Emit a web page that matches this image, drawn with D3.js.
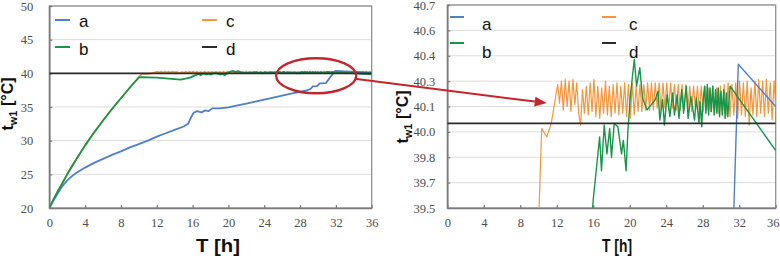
<!DOCTYPE html>
<html><head><meta charset="utf-8">
<script src="https://cdn.jsdelivr.net/npm/d3@7"></script>
<style>html,body{margin:0;padding:0;background:#fff;} svg{display:block}</style>
</head><body>
<svg id="chart" width="780" height="256"></svg>
<script>
// ---------------- data ----------------
const seriesNames = ["a", "b", "c", "d"];
const seriesColors = ["#4f7fc6", "#17964a", "#f4963c", "#2b2b2b"];
const drawOrder = [2, 0, 1, 3];
const timeTicks = [0, 4, 8, 12, 16, 20, 24, 28, 32, 36];
const leftYTicks = [20, 25, 30, 35, 40, 45, 50];
const rightYTicks = [39.5, 39.65, 39.8, 39.95, 40.1, 40.25, 40.4, 40.55, 40.7];
const rightYTickLabels = ["39.5", "39.7", "39.8", "40.0", "40.1", "40.3", "40.4", "40.6", "40.7"];
const xTitle = "T [h]";

// series a (blue) [T h, t_w1 °C]
const seriesA = [
  [0,20],[0.5,21.2],[1,22.3],[1.5,23.3],[2,24.1],[2.5,24.7],[3,25.2],[4,26.0],[5,26.7],[6,27.3],
  [7,27.9],[8,28.4],[9,29.0],[10,29.5],[11,30.0],[12,30.6],[13,31.1],[14,31.6],[15,32.1],[15.5,32.5],
  [15.8,33.4],[16.1,34.1],[16.5,34.4],[17,34.2],[17.4,34.5],[17.8,34.4],[18.2,34.8],[19,34.8],[20,34.95],
  [21.3,35.3],[22,35.5],[23,35.8],[24,36.1],[25,36.4],[26,36.7],[27,37.0],[28,37.25],[28.7,37.45],
  [29.2,37.7],[29.4,38.05],[29.9,38.1],[30.2,38.5],[30.9,38.55],[31.3,39.3],[31.9,40.35],[36,40.1]
];

// series b (green)
const seriesB = [
  [0,20],[0.5,21.35],[1,22.6],[2,25.0],[3,27.2],[4,29.3],[5,31.2],[6,33.0],[7,34.7],[8,36.3],[9,37.9],
  [10,39.4],[10.3,39.45],[11,39.4],[12,39.35],[13,39.25],[14,39.15],[14.7,39.05],[15.2,39.2],[15.8,39.4],
  [16.0,39.55],[16.7,39.92],[16.9,39.72],[17.2,39.99],[17.5,39.82],[17.8,39.97],[18.0,39.80],[18.3,40.0],
  [18.7,39.98],[19.1,39.82],[19.3,39.9],[19.6,39.72],[19.8,39.96],[20.1,40.18],[20.5,40.38],[20.75,40.22],
  [21.1,40.33],[21.4,40.15],[21.9,40.08],[22.8,40.14],[23.1,40.19],[23.3,40.02],[23.6,40.14],[23.8,39.99],
  [24.1,40.17],[24.4,40.04],[24.7,40.18],[24.9,40.05],[25.2,40.17],[25.4,40.03],[25.7,40.2],[25.9,40.06],
  [26.2,40.22],[26.4,40.03],[26.7,40.16],[26.9,40.09],[27.1,40.02],[27.3,40.15],[27.6,40.0],[27.7,40.13],
  [27.9,39.98],[28.0,40.11],[28.2,40.22],[28.35,40.06],[28.5,40.23],[28.65,40.05],[28.8,40.21],[28.95,40.07],
  [29.1,40.22],[29.25,40.05],[29.4,40.2],[29.55,40.06],[29.7,40.21],[29.85,40.04],[30.0,40.19],[30.15,40.05],
  [30.3,40.2],[30.45,40.03],[30.6,40.18],[30.75,40.04],[31.0,40.22],[36,39.84]
];

// series c (orange)
const seriesC = [
  [0,20],[0.5,21.35],[1,22.6],[2,25.0],[3,27.2],[4,29.3],[5,31.2],[6,33.0],[7,34.7],[8,36.3],[9,37.9],
  [10,39.4],[10.35,39.97],[10.9,39.92],[11.4,40.0],[12.0,40.2],[12.1,40.23],[12.30,40.12],
  [12.51,40.25],[12.72,40.08],[12.93,40.26],[13.14,40.10],[13.35,40.25],[13.56,40.07],[13.77,40.26],
  [13.98,40.11],[14.19,40.24],[14.40,40.06],[14.61,39.99],[14.82,40.20],[15.03,40.06],[15.24,40.22],
  [15.45,40.05],[15.66,40.24],[15.87,40.07],[16.08,40.26],[16.29,40.04],[16.50,40.22],[16.71,40.03],
  [16.92,40.21],[17.13,40.06],[17.34,40.25],[17.55,40.05],[17.76,40.22],[17.97,40.04],[18.18,40.23],
  [18.39,40.06],[18.60,40.24],[18.81,40.05],[19.02,40.22],[19.23,40.06],[19.44,40.24],[19.65,40.04],
  [19.86,40.23],[20.07,40.03],[20.28,40.24],[20.49,40.05],[20.70,40.22],[20.91,40.07],[21.12,40.23],
  [21.33,40.07],[21.54,40.23],[21.75,40.08],[21.96,40.24],[22.17,40.08],[22.38,40.24],[22.59,40.08],
  [22.80,40.24],[23.01,40.09],[23.22,40.24],[23.43,40.08],[23.64,40.24],[23.85,40.09],[24.06,40.24],
  [24.27,40.08],[24.48,40.24],[24.69,40.09],[24.90,40.23],[25.11,40.08],[25.32,40.23],[25.53,40.08],
  [25.74,40.23],[25.95,40.08],[26.16,40.23],[26.37,40.08],[26.58,40.22],[26.79,40.07],[27.00,40.22],
  [27.21,40.08],[27.42,40.22],[27.63,40.07],[27.84,40.22],[28.05,40.07],[28.26,40.22],[28.47,40.08],
  [28.68,40.21],[28.89,40.07],[29.10,40.22],[29.31,40.07],[29.52,40.21],[29.73,40.06],[29.94,40.22],
  [30.15,40.05],[30.36,40.23],[30.57,40.05],[30.78,40.24],[30.99,40.04],[31.20,40.23],[31.41,40.05],
  [31.62,40.24],[31.83,40.03],[32.04,40.25],[32.25,40.05],[32.46,40.24],[32.67,40.04],[32.88,40.25],
  [33.09,39.99],[33.30,40.21],[33.51,40.05],[33.72,40.25],[33.93,40.04],[34.14,40.26],[34.35,40.06],
  [34.56,40.25],[34.77,40.04],[34.98,40.26],[35.19,40.06],[35.40,40.24],[35.61,40.02],[35.82,40.25],
  [36.00,40.10]
];

// series d (black reference)
const seriesD = [[0,40],[36,40]];

const allSeries = [seriesA, seriesB, seriesC, seriesD];

// annotation (left-panel / right-panel data units)
const zoomEllipse = {t: 29.8, v: 39.64, rt: 4.47, rv: 2.6};
const arrowFrom = {t: 34.1, v: 39.2};   // left panel
const arrowTo = {t: 10.9, v: 40.12};    // right panel

// ---------------- drawing ----------------
const svg = d3.select("#chart");
const tickFont = "'Liberation Serif','Times New Roman',serif";
const sansFont = "'Liberation Sans',Arial,sans-serif";

const panels = [
  {id: "L", x0: 49.3, x1: 371.7, yb: 208, yt: 6, ydom: [20, 50], yticks: leftYTicks,
   ylabels: leftYTicks.map(String), ypad: 16, lineW: 1.8, lastDx: 0,
   ytitle: {x: 13, y: 104, len: 58}, xtitle: {x: 218, y: 252, len: 44},
   legend: {lx: 55, tx: 79, cx: 202, ctx: 226, y1: 20, y2: 47, ty1: 27, ty2: 55, len: 15}},
  {id: "R", x0: 447.3, x1: 775.7, yb: 208, yt: 5, ydom: [39.5, 40.7], yticks: rightYTicks,
   ylabels: rightYTickLabels, ypad: 12, lineW: 1.4, lastDx: -3,
   ytitle: {x: 408, y: 117, len: 58}, xtitle: {x: 617, y: 252, len: 30},
   legend: {lx: 450, tx: 482, cx: 602, ctx: 629, y1: 17, y2: 43, ty1: 30, ty2: 58, len: 14}}
];

panels.forEach(p => {
  p.x = d3.scaleLinear().domain([0, 36]).range([p.x0, p.x1]);
  p.y = d3.scaleLinear().domain(p.ydom).range([p.yb, p.yt]);
  const g = svg.append("g");

  // gridlines
  g.append("g").selectAll("line").data(p.yticks.slice(1)).join("line")
    .attr("x1", p.x0).attr("x2", p.x1)
    .attr("y1", d => p.y(d)).attr("y2", d => p.y(d))
    .attr("stroke", "#dcdcdc").attr("stroke-width", 1);

  // frame
  g.append("rect").attr("x", p.x0).attr("y", p.yt)
    .attr("width", p.x1 - p.x0).attr("height", p.yb - p.yt)
    .attr("fill", "none").attr("stroke", "#8f8f8f").attr("stroke-width", 1.3);

  // axes
  const xa = g.append("g").attr("transform", `translate(0,${p.yb})`)
    .call(d3.axisBottom(p.x).tickValues(timeTicks).tickFormat(d3.format("d"))
      .tickSize(-3).tickSizeOuter(0).tickPadding(10));
  const ya = g.append("g").attr("transform", `translate(${p.x0},0)`)
    .call(d3.axisLeft(p.y).tickValues(p.yticks).tickFormat((d, i) => p.ylabels[i])
      .tickSize(-3).tickSizeOuter(0).tickPadding(p.ypad));
  [xa, ya].forEach(a => {
    a.select(".domain").attr("stroke", "#7a7a7a").attr("stroke-width", 1.6);
    a.selectAll(".tick line").attr("stroke", "#7a7a7a").attr("stroke-width", 1.2);
    a.selectAll(".tick text").attr("fill", "#4d4d4d")
      .style("font-family", tickFont).style("font-size", "12.5px");
  });
  xa.selectAll(".tick text").filter(d => d === 36).attr("dx", p.lastDx);

  // clip
  const clipId = "clip" + p.id;
  svg.append("clipPath").attr("id", clipId).append("rect")
    .attr("x", p.x0).attr("y", p.yt).attr("width", p.x1 - p.x0).attr("height", p.yb - p.yt);

  const line = d3.line().x(d => p.x(d[0])).y(d => p.y(d[1]));
  const lg = g.append("g").attr("clip-path", `url(#${clipId})`);
  drawOrder.forEach(i => {
    lg.append("path").datum(allSeries[i]).attr("d", line)
      .attr("fill", "none").attr("stroke", seriesColors[i])
      .attr("stroke-width", i === 3 ? 1.8 : (i === 2 && p.id === "R" ? 1.2 : p.lineW))
      .attr("stroke-linejoin", "round");
  });

  // legend
  const L = p.legend;
  const pos = [
    {lx: L.lx, tx: L.tx, y: L.y1, ty: L.ty1},
    {lx: L.lx, tx: L.tx, y: L.y2, ty: L.ty2},
    {lx: L.cx, tx: L.ctx, y: L.y1, ty: L.ty1},
    {lx: L.cx, tx: L.ctx, y: L.y2, ty: L.ty2}
  ];
  seriesNames.forEach((n, i) => {
    g.append("line").attr("x1", pos[i].lx).attr("x2", pos[i].lx + L.len)
      .attr("y1", pos[i].y).attr("y2", pos[i].y)
      .attr("stroke", seriesColors[i]).attr("stroke-width", 2);
    g.append("text").attr("x", pos[i].tx).attr("y", pos[i].ty).text(n)
      .style("font-family", sansFont).style("font-size", "17px").attr("fill", "#111");
  });

  // x title
  g.append("text").attr("x", p.xtitle.x).attr("y", p.xtitle.y)
    .attr("text-anchor", "middle").attr("textLength", p.xtitle.len)
    .attr("lengthAdjust", "spacingAndGlyphs")
    .style("font-family", sansFont).style("font-size", "19px").style("font-weight", "bold")
    .attr("fill", "#111").text(xTitle);

  // y title
  const yt = g.append("text")
    .attr("transform", `translate(${p.ytitle.x},${p.ytitle.y}) rotate(-90)`)
    .attr("text-anchor", "middle")
    .style("font-family", sansFont).style("font-size", "16px").style("font-weight", "bold")
    .attr("fill", "#111");
  yt.append("tspan").text("t");
  yt.append("tspan").attr("dy", 4).style("font-size", "11px").text("w1");
  yt.append("tspan").attr("dy", -4).text(" [°C]");
});

// annotation: ellipse + arrow
const PL = panels[0], PR = panels[1];
const red = "#c0262c";
const ecx = PL.x(zoomEllipse.t), ecy = PL.y(zoomEllipse.v);
svg.append("ellipse").attr("cx", ecx).attr("cy", ecy)
  .attr("rx", PL.x(zoomEllipse.t + zoomEllipse.rt) - ecx)
  .attr("ry", ecy - PL.y(zoomEllipse.v + zoomEllipse.rv))
  .attr("fill", "none").attr("stroke", red).attr("stroke-width", 2.3);

const ax0 = PL.x(arrowFrom.t), ay0 = PL.y(arrowFrom.v);
const ax1 = PR.x(arrowTo.t), ay1 = PR.y(arrowTo.v);
const ang = Math.atan2(ay1 - ay0, ax1 - ax0);
const hl = 12, hw = 5;
const bx = ax1 - hl * Math.cos(ang), by = ay1 - hl * Math.sin(ang);
svg.append("line").attr("x1", ax0).attr("y1", ay0).attr("x2", bx).attr("y2", by)
  .attr("stroke", red).attr("stroke-width", 2);
svg.append("path")
  .attr("d", `M${ax1},${ay1}L${bx - hw * Math.sin(ang)},${by + hw * Math.cos(ang)}L${bx + hw * Math.sin(ang)},${by - hw * Math.cos(ang)}Z`)
  .attr("fill", red);
</script>
</body></html>
